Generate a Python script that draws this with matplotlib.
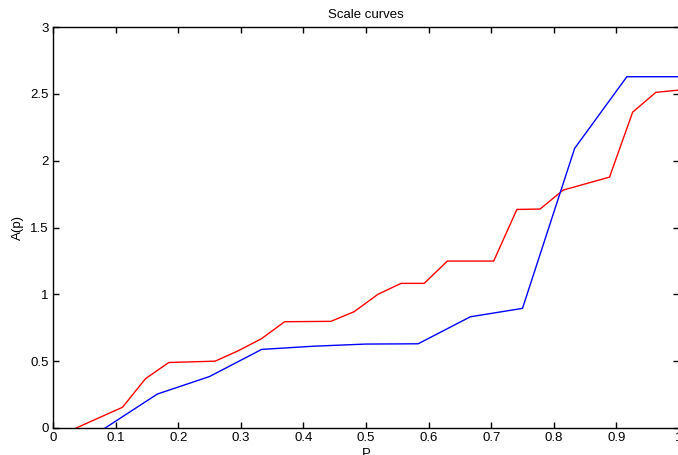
import numpy as np
import matplotlib
matplotlib.use("Agg")
import matplotlib.pyplot as plt

plt.rcParams['font.family'] = ['Liberation Sans', 'DejaVu Sans']

# red curve
p_red = [0.037, 0.111, 0.148, 0.185, 0.259, 0.296, 0.333, 0.370, 0.444,
         0.481, 0.519, 0.556, 0.593, 0.630, 0.704, 0.741, 0.778, 0.815,
         0.889, 0.926, 0.963, 1.0]
a_red = [0.0, 0.155, 0.37, 0.49, 0.50, 0.578, 0.668, 0.795, 0.798,
         0.87, 1.0, 1.082, 1.082, 1.249, 1.249, 1.635, 1.638, 1.78,
         1.877, 2.363, 2.511, 2.528]

# blue curve
p_blue = [0.0833, 0.1667, 0.25, 0.3333, 0.4167, 0.5, 0.5833, 0.6667,
          0.75, 0.8333, 0.9167, 1.0]
a_blue = [0.0, 0.254, 0.385, 0.588, 0.612, 0.628, 0.630, 0.832,
          0.895, 2.092, 2.628, 2.628]

xticks = [0, 0.1, 0.2, 0.3, 0.4, 0.5, 0.6, 0.7, 0.8, 0.9, 1]
xlabels = ['0', '0.1', '0.2', '0.3', '0.4', '0.5', '0.6', '0.7', '0.8', '0.9', '1']
yticks = [0, 0.5, 1, 1.5, 2, 2.5, 3]
ylabels = ['0', '0.5', '1', '1.5', '2', '2.5', '3']

fig = plt.figure(figsize=(6.78, 4.55), dpi=100)
ax = fig.add_axes([53/678, 27/455, 626/678, 401/455])

ax.plot(p_red, a_red, color='red', linewidth=1)
ax.plot(p_blue, a_blue, color='blue', linewidth=1)

ax.set_xlim(0, 1)
ax.set_ylim(0, 3)
ax.set_xticks(xticks)
ax.set_xticklabels(xlabels)
ax.set_yticks(yticks)
ax.set_yticklabels(ylabels)
ax.tick_params(direction='in', top=True, right=True, length=4, width=1,
               labelsize=9.5, pad=3)
for s in ax.spines.values():
    s.set_linewidth(1)

ax.set_title('Scale curves', fontsize=9.5, pad=6.5)
ax.set_xlabel('P', fontsize=9.5)
ax.set_ylabel('A(p)', fontsize=9.5)
ax.xaxis.set_label_coords(0.5, -0.05)
ax.yaxis.set_label_coords(-0.046, 0.5)
ax.xaxis.label.set_va('top')

fig.savefig('out.png', dpi=100)
